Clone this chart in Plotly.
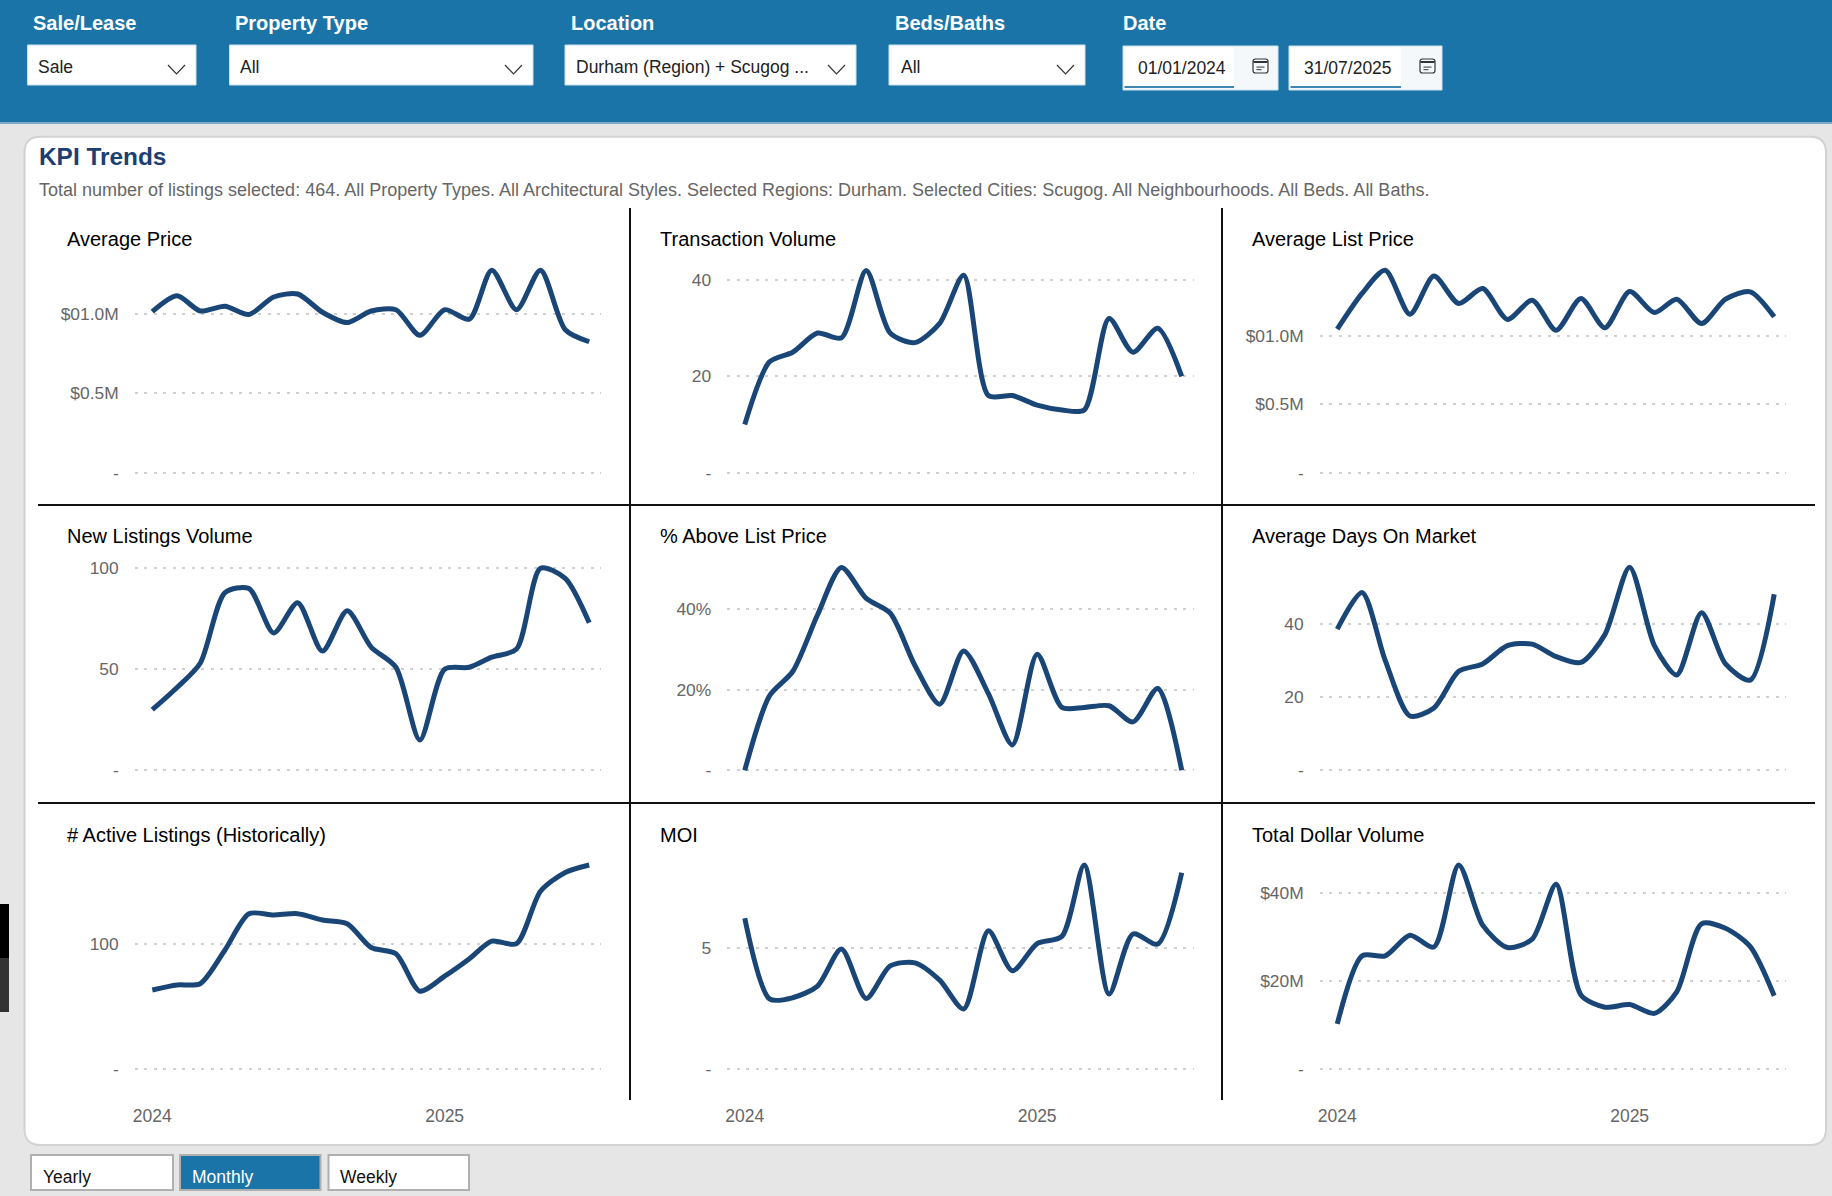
import plotly.graph_objects as go

W, H = 1832, 1196

MONTHS = ['2024-01', '2024-02', '2024-03', '2024-04', '2024-05', '2024-06', '2024-07',
          '2024-08', '2024-09', '2024-10', '2024-11', '2024-12', '2025-01', '2025-02',
          '2025-03', '2025-04', '2025-05', '2025-06', '2025-07']

avg_price = [1.014, 1.114, 1.018, 1.048, 0.996, 1.106, 1.125, 1.01, 0.945, 1.018,
             1.026, 0.865, 1.026, 0.967, 1.275, 1.026, 1.275, 0.90, 0.824]
transactions = [10, 23, 25, 29, 28, 42, 29, 27, 31, 41, 16, 16, 14, 13, 13, 32, 25, 30, 20]
avg_list_price = [1.049, 1.31, 1.48, 1.158, 1.437, 1.237, 1.346, 1.12, 1.26, 1.041,
                  1.273, 1.059, 1.324, 1.17, 1.268, 1.09, 1.268, 1.322, 1.139]
new_listings = [30, 41, 53, 88, 90, 68, 83, 59, 79, 61, 51, 15, 50, 51, 56, 60, 100, 95, 73]
pct_above_list = [0, 18.5, 24.5, 38.5, 50.3, 42.6, 39, 26, 16.4, 29.6, 19, 6.3, 28.8,
                  15.6, 15.6, 16, 12, 20.3, 0]
days_on_market = [38.5, 48.5, 30, 14.8, 17, 27, 29, 34, 34.4, 31, 29.4, 37, 55.4, 34, 26,
                  43, 29, 24.6, 48]
active_listings = [63, 67, 68, 95, 124, 123, 124, 119, 116, 97, 92, 62, 74, 88, 102, 100,
                   142, 157, 163]
moi = [6.25, 2.9, 2.95, 3.43, 4.97, 2.92, 4.27, 4.4, 3.68, 2.48, 5.73, 4.07, 5.2, 5.5,
       8.46, 3.1, 5.6, 5.18, 8.14]
total_dollar = [10.2, 25.7, 25.7, 30.4, 27.7, 46.4, 32.7, 27.6, 29.5, 42, 16.8, 14, 14.6,
                12.6, 17.5, 33, 32, 27.8, 16.6]

panel_titles = ['Average Price', 'Transaction Volume', 'Average List Price',
                'New Listings Volume', '% Above List Price', 'Average Days On Market',
                '# Active Listings (Historically)', 'MOI', 'Total Dollar Volume']
panel_values = [avg_price, transactions, avg_list_price,
                new_listings, pct_above_list, days_on_market,
                active_listings, moi, total_dollar]
panel_ymax = [1.3235, 43.66, 1.5366, 103.96, 52.07, 57.27, 168, 8.726, 47.83]
panel_tickvals = [[0, 0.5, 1], [0, 20, 40], [0, 0.5, 1],
                  [0, 50, 100], [0, 20, 40], [0, 20, 40],
                  [0, 100], [0, 5], [0, 20, 40]]
panel_ticktext = [['-', '$0.5M', '$01.0M'], ['-', '20', '40'], ['-', '$0.5M', '$01.0M'],
                  ['-', '50', '100'], ['-', '20%', '40%'], ['-', '20', '40'],
                  ['-', '100'], ['-', '5'], ['-', '$20M', '$40M']]

year_ticks = ['2024-01-01', '2025-01-01']
year_labels = ['2024', '2025']

FONT = 'Liberation Sans, Arial, sans-serif'
NAVY = '#1a4677'
HEADER = '#1a74a8'
GREY_TEXT = '#666666'

col_left = [134.7, 727.2, 1319.7]
col_width = 466.5
row_base = [472.5, 770.3, 1068.7]
row_height = 210


def px(x):
    return x / W


def py(y):
    return 1 - y / H


def rect(x0, y0, x1, y1, fill, line=None, width=0):
    return dict(type='rect', xref='paper', yref='paper', x0=px(x0), x1=px(x1), y0=py(y0), y1=py(y1),
                fillcolor=fill, line=dict(color=line or fill, width=width), layer='below')


def path(d, fill='rgba(0,0,0,0)', line='#333333', width=1.2):
    return dict(type='path', xref='paper', yref='paper', path=d, fillcolor=fill,
                line=dict(color=line, width=width), layer='below')


def rounded(x0, y0, x1, y1, r):
    return (f'M {px(x0 + r)} {py(y0)} L {px(x1 - r)} {py(y0)} Q {px(x1)} {py(y0)} {px(x1)} {py(y0 + r)} '
            f'L {px(x1)} {py(y1 - r)} Q {px(x1)} {py(y1)} {px(x1 - r)} {py(y1)} '
            f'L {px(x0 + r)} {py(y1)} Q {px(x0)} {py(y1)} {px(x0)} {py(y1 - r)} '
            f'L {px(x0)} {py(y0 + r)} Q {px(x0)} {py(y0)} {px(x0 + r)} {py(y0)} Z')


def chevron(x, y):
    return path(f'M {px(x)} {py(y)} L {px(x + 8.5)} {py(y + 9)} L {px(x + 17)} {py(y)}',
                line='#333333', width=1.2)


def label(text, x, y, size, color='#000000', bold=False):
    # annotations carry about 2px of padding on the left
    return dict(text=f'<b>{text}</b>' if bold else text, xref='paper', yref='paper', x=px(x - 2), y=py(y),
                xanchor='left', yanchor='middle', showarrow=False,
                font=dict(family=FONT, size=size, color=color))


shapes = []
notes = []

# header band and filter boxes
shapes.append(rect(0, 0, W, 122, HEADER))
shapes.append(rect(0, 122, W, 124, '#7fa9c6'))
for x0, x1 in [(27.5, 196), (229.5, 533), (565, 856), (889, 1085)]:
    shapes.append(rect(x0, 45, x1, 85, '#ffffff', '#cfe0ec', 1))
    shapes.append(chevron(x1 - 28, 65))
for text, x in [('Sale/Lease', 33), ('Property Type', 235), ('Location', 571),
                ('Beds/Baths', 895), ('Date', 1123)]:
    notes.append(label(text, x, 22.5, 20, '#ffffff', bold=True))
for text, x in [('Sale', 38), ('All', 240), ('Durham (Region) + Scugog ...', 576), ('All', 901)]:
    notes.append(label(text, x, 67, 17.5, '#222222'))

# date pickers
for x0, x_mid, x1, text in [(1123, 1234, 1278, '01/01/2024'), (1289, 1401, 1442, '31/07/2025')]:
    shapes.append(rect(x0, 46, x1, 90, '#f4f8fb', '#cfe0ec', 1))
    shapes.append(rect(x0 + 1.5, 47.5, x_mid, 88, '#ffffff'))
    shapes.append(rect(x0 + 1.5, 86, x_mid, 88, '#3f86b5'))
    notes.append(label(text, x0 + 15, 67.5, 17.5, '#222222'))
    cx, cy = x_mid + 26.5, 66
    shapes.append(path(rounded(cx - 7.5, cy - 7, cx + 7.5, cy + 7, 2.5), width=1.2))
    shapes.append(rect(cx - 7, cy - 5, cx + 7, cy - 3, '#333333'))
    shapes.append(rect(cx - 4, cy + 0.5, cx + 4, cy + 1.7, '#555555'))
    shapes.append(rect(cx - 4, cy + 3, cx + 1, cy + 4.2, '#555555'))

# card
shapes.append(path(rounded(24.5, 136.7, 1826, 1145, 16), fill='#ffffff', line='#d2d2d2', width=2))
notes.append(label('KPI Trends', 38.5, 157, 24.4, '#1b3f73', bold=True))
notes.append(label('Total number of listings selected: 464. All Property Types. All Architectural Styles. '
                   'Selected Regions: Durham. Selected Cities: Scugog. All Neighbourhoods. All Beds. All Baths.',
                   38.5, 190, 18, GREY_TEXT))

# dividers
for x in [630, 1222]:
    shapes.append(rect(x - 1, 208, x + 1, 1100, '#111111'))
for y in [505, 803]:
    shapes.append(rect(38, y - 1, 1815, y + 1, '#111111'))

# artefact strip on the left edge
shapes.append(rect(0, 904, 9, 958, '#000000'))
shapes.append(rect(0, 958, 9, 1012, '#333333'))

# bottom toggle buttons
for text, x0, x1, active in [('Yearly', 31, 173, False), ('Monthly', 180, 320.5, True), ('Weekly', 328.5, 469, False)]:
    shapes.append(rect(x0, 1155, x1, 1190, HEADER if active else '#ffffff', '#b0b0b0', 2))
    notes.append(label(text, x0 + 11.5, 1177, 17.5, '#ffffff' if active else '#111111'))

fig = go.Figure()

# one small line chart per KPI, three across and three down
for i, title in enumerate(panel_titles):
    n = i + 1
    col, row = i % 3, i // 3
    left, base = col_left[col], row_base[row]
    # a sliver below zero, plotly drops the gridline sitting exactly on the range edge
    y_low = -panel_ymax[i] * 2 / row_height
    fig.add_trace(go.Scatter(x=MONTHS, y=panel_values[i], mode='lines', xaxis=f'x{n}', yaxis=f'y{n}',
                             line=dict(color=NAVY, width=5, shape='spline', smoothing=0.75),
                             cliponaxis=False, showlegend=False, hoverinfo='skip'))
    fig.update_layout(**{
        f'xaxis{n}': dict(domain=[px(left), px(left + col_width)], anchor=f'y{n}', type='date',
                          range=['2023-12-10', '2025-07-16'], showgrid=False, zeroline=False,
                          showline=False, ticks='', tickmode='array', automargin=False,
                          tickvals=year_ticks if row == 2 else [],
                          ticktext=year_labels if row == 2 else [],
                          ticklabelstandoff=33,
                          tickfont=dict(family=FONT, size=17.5, color=GREY_TEXT)),
        f'yaxis{n}': dict(domain=[py(base + 2), py(base - row_height)], anchor=f'x{n}',
                          range=[y_low, panel_ymax[i]], showgrid=True, gridcolor='#d0d0d0',
                          griddash='3px,6.5px', gridwidth=2, zeroline=False, showline=False, ticks='',
                          tickmode='array', tickvals=panel_tickvals[i], ticktext=panel_ticktext[i],
                          ticklabelstandoff=15, automargin=False,
                          tickfont=dict(family=FONT, size=17.4, color=GREY_TEXT)),
    })
    notes.append(label(title, left - 67.5, base - 234 if row else 238.7, 20, '#000000'))

fig.update_layout(width=W, height=H, autosize=False, margin=dict(l=0, r=0, t=0, b=0, pad=0),
                  paper_bgcolor='#e6e6e6', plot_bgcolor='rgba(0,0,0,0)',
                  font=dict(family=FONT), shapes=shapes, annotations=notes)

fig.write_html('out.html', config={'displayModeBar': False},
               post_script="document.body.style.margin='0';")
